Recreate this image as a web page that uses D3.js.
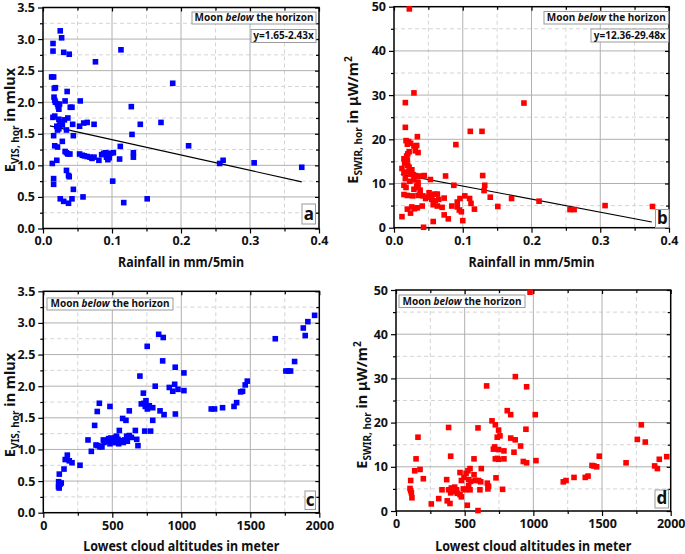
<!DOCTYPE html>
<html><head><meta charset="utf-8">
<script src="https://cdn.jsdelivr.net/npm/d3@7"></script>
<style>
body{margin:0;background:#fff}
svg{display:block}
text{font-family:"Noto Sans","Open Sans",sans-serif;font-weight:bold;fill:#111}
</style>
</head><body>
<svg id="chart" width="685" height="554"></svg>
<script>
// ---------- DATA ----------
// Panel a: rainfall (mm/5min) vs E_VIS,hor (mlux)
const pointsA = [
[0.025,3.13],[0.027,3.02],[0.0145,2.93],[0.0145,2.81],[0.030,2.79],[0.038,2.76],[0.076,2.64],[0.113,2.83],[0.188,2.30],
[0.0125,2.40],[0.0154,2.40],[0.0164,2.22],[0.018,2.23],[0.035,2.17],[0.016,2.08],[0.017,2.03],[0.032,2.02],[0.054,2.02],
[0.018,2.00],[0.021,1.97],[0.022,1.93],[0.023,1.89],[0.024,1.97],[0.0395,1.92],[0.042,1.92],[0.128,1.93],
[0.0144,1.76],[0.017,1.78],[0.023,1.73],[0.026,1.69],[0.031,1.72],[0.036,1.75],[0.043,1.65],[0.053,1.62],[0.059,1.67],[0.064,1.68],[0.074,1.65],[0.141,1.65],[0.171,1.68],
[0.024,1.64],[0.028,1.64],[0.020,1.62],[0.021,1.56],[0.034,1.56],[0.023,1.58],
[0.0154,1.47],[0.044,1.47],[0.129,1.49],[0.028,1.38],[0.017,1.31],[0.021,1.29],[0.112,1.30],[0.211,1.31],
[0.032,1.22],[0.036,1.18],[0.039,1.18],[0.034,1.20],
[0.053,1.18],[0.057,1.16],[0.060,1.15],[0.064,1.14],[0.068,1.13],[0.071,1.11],[0.074,1.13],[0.081,1.08],[0.085,1.17],[0.088,1.19],[0.091,1.20],[0.092,1.13],[0.094,1.09],[0.096,1.12],[0.098,1.19],[0.102,1.20],[0.111,1.10],[0.131,1.20],[0.131,1.13],
[0.0135,1.03],[0.020,1.08],[0.256,1.03],[0.261,1.08],[0.306,1.04],[0.375,0.97],
[0.034,0.92],[0.037,0.84],[0.038,0.82],[0.0154,0.79],[0.0154,0.70],[0.101,0.75],[0.044,0.62],
[0.025,0.47],[0.030,0.43],[0.037,0.40],[0.042,0.47],[0.058,0.50],[0.117,0.41],[0.151,0.47]
];
// Panel b: rainfall (mm/5min) vs E_SWIR,hor (µW/m²)
const pointsB = [
[0.0223,49.5],[0.029,30.5],[0.0165,28.3],[0.189,28.2],[0.0165,22.7],[0.111,21.8],[0.128,21.8],[0.034,20.6],[0.090,18.8],
[0.0175,19.7],[0.0213,19.5],[0.0194,18.9],[0.0242,19.1],[0.029,18.5],[0.033,18.6],
[0.031,17.4],[0.035,17.0],[0.022,17.2],[0.020,16.7],[0.0184,16.2],[0.0145,15.6],[0.0194,15.3],[0.0155,14.6],[0.020,14.1],[0.022,13.7],[0.026,13.1],[0.0116,13.4],[0.0145,12.4],[0.0194,12.6],[0.024,12.1],[0.028,12.0],[0.031,11.8],[0.034,11.5],[0.039,11.7],[0.044,11.8],[0.0165,11.1],[0.023,10.5],[0.029,10.8],[0.035,10.2],[0.0145,9.6],[0.0175,9.1],[0.033,9.4],[0.035,9.1],[0.029,8.7],[0.038,8.5],[0.0145,7.5],[0.0194,7.3],[0.027,7.2],[0.035,7.3],[0.038,7.5],[0.042,7.2],
[0.053,10.9],[0.075,11.7],[0.087,9.6],[0.129,11.8],[0.132,9.6],[0.131,8.4],[0.140,6.9],[0.151,4.8],
[0.051,7.9],[0.054,7.3],[0.059,7.6],[0.063,7.6],[0.049,6.9],[0.046,6.6],[0.055,6.4],[0.060,6.1],[0.065,6.4],[0.073,6.7],[0.057,5.2],[0.063,4.9],[0.070,4.6],[0.084,4.9],[0.092,5.8],[0.096,6.6],[0.092,4.7],[0.095,4.0],[0.098,3.6],[0.103,7.2],[0.110,6.6],[0.112,5.5],[0.117,4.2],
[0.041,4.9],[0.034,4.5],[0.030,4.3],[0.026,4.7],[0.0194,4.2],[0.024,3.3],[0.0116,2.5],[0.073,2.9],[0.079,2.0],[0.100,1.6],[0.057,1.4],[0.043,0.1],
[0.171,6.6],[0.211,6.0],[0.256,4.1],[0.262,4.1],[0.307,5.0],[0.376,4.8]
];
// Panel c: lowest cloud altitude (m) vs E_VIS,hor (mlux)
const pointsC = [
[110,0.41],[115,0.46],[111,0.49],[121,0.45],[130,0.47],[115,0.39],[116,0.61],[150,0.69],[159,0.84],[174,0.91],[188,0.82],[208,0.79],[266,0.75],[324,1.15],[348,0.97],[372,1.38],[391,1.60],[406,1.73],
[382,1.07],[396,1.06],[411,1.04],[425,1.04],[435,1.15],[440,1.11],[454,1.13],[473,1.17],[483,1.09],[488,1.18],[499,1.15],[502,1.11],[512,1.16],[522,1.19],[527,1.11],[531,1.21],[541,1.16],[546,1.09],[551,1.30],[556,1.14],[570,1.13],[580,1.11],[590,1.15],[604,1.21],[609,1.13],[623,1.22],[638,1.19],[667,1.30],[677,1.16],[686,1.06],
[483,1.68],[575,1.49],[599,1.46],[623,1.61],[700,2.16],[725,1.89],[710,1.72],[730,1.73],[744,1.77],[739,1.68],[754,1.64],[768,1.69],[793,1.66],[735,1.29],[778,1.29],[753,2.63],[793,1.46],[811,2.00],[846,1.61],[836,2.82],[869,2.77],[865,2.40],[875,1.55],[913,1.98],[938,1.92],[952,2.03],[956,2.30],[957,1.56],[976,1.95],[1019,1.93],[1019,2.21],
[1217,1.64],[1241,1.64],[1299,1.66],[1382,1.68],[1401,1.74],[1430,1.91],[1444,1.92],[1463,2.02],[1478,2.08],[1681,2.75],[1758,2.24],[1777,2.24],[1792,2.24],[1821,2.39],[1884,2.92],[1898,2.80],[1917,3.02],[1966,3.12]
];
// Panel d: lowest cloud altitude (m) vs E_SWIR,hor (µW/m²)
const pointsD = [
[976,49.5],[869,30.4],[660,28.3],[951,28.1],[810,22.7],[835,21.8],[1014,21.8],[699,20.4],[723,19.5],[383,18.9],[597,18.8],[747,18.3],[946,18.5],[757,17.0],[737,16.7],[160,16.7],[835,16.5],[868,16.1],[907,14.7],[718,14.5],[709,14.0],[747,13.9],[786,13.6],[859,13.3],[723,11.8],[737,11.9],[747,11.7],[786,11.8],[927,11.2],[951,10.9],[1019,11.4],[398,12.4],[568,11.8],[146,11.8],
[175,9.4],[136,9.1],[199,7.3],[107,6.9],[102,5.1],[107,4.6],[112,4.1],[116,3.0],
[621,9.6],[728,7.5],[539,9.6],[524,9.1],[510,8.5],[466,8.7],[568,8.2],[495,7.6],[476,6.9],[529,7.1],[543,6.7],[578,6.9],[602,6.9],[617,6.6],[369,7.1],[665,6.3],
[427,5.4],[403,5.2],[383,4.8],[398,4.1],[417,4.4],[441,4.8],[446,4.0],[466,3.7],[476,3.2],[490,5.0],[505,4.8],[529,5.7],[539,4.8],[611,4.8],[674,5.6],[669,5.0],[776,4.9],[335,4.8],[311,2.8],[373,2.3],[393,1.7],[257,1.6],[519,1.3],[597,0.1],
[1218,6.6],[1238,6.9],[1296,7.6],[1378,7.6],[1398,7.9],[1427,10.3],[1441,10.2],[1461,10.0],[1480,12.4],[1675,10.9],[1757,16.2],[1786,19.5],[1815,15.6],[1883,10.2],[1903,9.6],[1917,11.7],[1971,12.3]
];
// Linear fits: [intercept, slope] and x-range of fitted line
const fitA = [1.65, -2.43];
const fitB = [12.36, -29.48];
const fitRange = [0.01, 0.375];
// Axis ticks
const ticksRain = [0, 0.1, 0.2, 0.3, 0.4];
const ticksAlt = [0, 500, 1000, 1500, 2000];
const ticksVis = [0, 0.5, 1.0, 1.5, 2.0, 2.5, 3.0, 3.5];
const ticksSwir = [0, 10, 20, 30, 40, 50];
const legendText = ["Moon ", "below", " the horizon"];
const eqTexts = ["y=1.65-2.43x", "y=12.36-29.48x"];
const panelLetters = ["a", "b", "c", "d"];

// ---------- DRAW ----------
const svg = d3.select("#chart");

function minorOf(t) {
  const out = [];
  for (let i = 0; i < t.length - 1; i++) out.push((t[i] + t[i + 1]) / 2);
  return out;
}

function drawPanel(p) {
  const g = svg.append("g");
  const x = d3.scaleLinear().domain([p.xTicks[0], p.xTicks[p.xTicks.length - 1]]).range([p.left, p.right]);
  const y = d3.scaleLinear().domain([p.yTicks[0], p.yTicks[p.yTicks.length - 1]]).range([p.bottom, p.top]);
  const xMin = minorOf(p.xTicks), yMin = minorOf(p.yTicks);

  // grid
  const grid = g.append("g");
  grid.selectAll(".gxm").data(xMin).join("line")
    .attr("x1", d => x(d)).attr("x2", d => x(d)).attr("y1", p.top).attr("y2", p.bottom)
    .attr("stroke", "#d4d4d4").attr("stroke-width", 1).attr("stroke-dasharray", "4,3");
  grid.selectAll(".gym").data(yMin).join("line")
    .attr("y1", d => y(d)).attr("y2", d => y(d)).attr("x1", p.left).attr("x2", p.right)
    .attr("stroke", "#d4d4d4").attr("stroke-width", 1).attr("stroke-dasharray", "4,3");
  grid.selectAll(".gx").data(p.xTicks.slice(1, -1)).join("line")
    .attr("x1", d => x(d)).attr("x2", d => x(d)).attr("y1", p.top).attr("y2", p.bottom)
    .attr("stroke", "#b0b0b0").attr("stroke-width", 1);
  grid.selectAll(".gy").data(p.yTicks.slice(1, -1)).join("line")
    .attr("y1", d => y(d)).attr("y2", d => y(d)).attr("x1", p.left).attr("x2", p.right)
    .attr("stroke", "#b0b0b0").attr("stroke-width", 1);

  // axes with ticks
  const fmtX = p.xFmt, fmtY = p.yFmt;
  const ax = (gen, tr) => g.append("g").attr("transform", tr).call(gen)
      .call(s => s.select(".domain").remove());
  ax(d3.axisBottom(x).tickValues(p.xTicks).tickSize(5).tickPadding(3).tickFormat(fmtX), `translate(0,${p.bottom})`);
  ax(d3.axisBottom(x).tickValues(xMin).tickSize(3).tickFormat(""), `translate(0,${p.bottom})`);
  ax(d3.axisLeft(y).tickValues(p.yTicks).tickSize(5).tickPadding(3).tickFormat(fmtY), `translate(${p.left},0)`);
  ax(d3.axisLeft(y).tickValues(yMin).tickSize(3).tickFormat(""), `translate(${p.left},0)`);
  ax(d3.axisTop(x).tickValues(p.xTicks).tickSize(-4).tickFormat(""), `translate(0,${p.top})`);
  ax(d3.axisTop(x).tickValues(xMin).tickSize(-3).tickFormat(""), `translate(0,${p.top})`);
  ax(d3.axisRight(y).tickValues(p.yTicks).tickSize(-4).tickFormat(""), `translate(${p.right},0)`);
  ax(d3.axisRight(y).tickValues(yMin).tickSize(-3).tickFormat(""), `translate(${p.right},0)`);
  g.selectAll(".tick line").attr("stroke", "#000").attr("stroke-width", 1.2);
  g.selectAll(".tick text").attr("font-size", 12.5).attr("font-family", '"Noto Sans",sans-serif')
    .attr("font-weight", "bold").attr("fill", "#111");

  // frame
  g.append("rect").attr("x", p.left).attr("y", p.top)
    .attr("width", p.right - p.left).attr("height", p.bottom - p.top)
    .attr("fill", "none").attr("stroke", "#000").attr("stroke-width", 1.5);

  // fit line
  if (p.fit) {
    g.append("path").datum(fitRange)
      .attr("d", d3.line().x(d => x(d)).y(d => y(p.fit[0] + p.fit[1] * d)))
      .attr("stroke", "#000").attr("stroke-width", 1.1).attr("fill", "none");
  }

  // markers
  const s = 5.6;
  g.append("g").selectAll("rect").data(p.data).join("rect")
    .attr("x", d => x(d[0]) - s / 2).attr("y", d => y(d[1]) - s / 2)
    .attr("width", s).attr("height", s).attr("fill", p.color);

  // legend box
  const lb = p.legend;
  g.append("rect").attr("x", lb[0]).attr("y", lb[1]).attr("width", lb[2]).attr("height", lb[3])
    .attr("fill", "#fff").attr("stroke", "#9a9a9a").attr("stroke-width", 1);
  const lt = g.append("text").attr("x", lb[0] + lb[2] / 2).attr("y", lb[1] + lb[3] - 3)
    .attr("text-anchor", "middle").attr("font-size", 10).attr("font-weight", "600");
  lt.append("tspan").text(legendText[0]);
  lt.append("tspan").attr("font-style", "italic").text(legendText[1]);
  lt.append("tspan").text(legendText[2]);

  if (p.eq) {
    const eb = p.eqBox;
    g.append("rect").attr("x", eb[0]).attr("y", eb[1]).attr("width", eb[2]).attr("height", eb[3])
      .attr("fill", "#fff").attr("stroke", "#9a9a9a").attr("stroke-width", 1);
    g.append("text").attr("x", eb[0] + eb[2] / 2).attr("y", eb[1] + eb[3] - 3.5)
      .attr("text-anchor", "middle").attr("font-size", 10).attr("font-weight", "600").text(p.eq);
  }

  // letter box
  const kb = p.letterBox;
  g.append("rect").attr("x", kb[0]).attr("y", kb[1]).attr("width", kb[2]).attr("height", kb[3])
    .attr("fill", "#fff").attr("stroke", "#9a9a9a").attr("stroke-width", 1);
  g.append("text").attr("x", kb[0] + kb[2] / 2).attr("y", kb[1] + kb[3] - 4)
    .attr("text-anchor", "middle").attr("font-size", 17).attr("font-weight", "600").text(p.letter);

  // x title
  g.append("text").attr("x", (p.left + p.right) / 2).attr("y", p.xTitleY)
    .attr("text-anchor", "middle").attr("font-size", 14)
    .attr("textLength", p.xTitleW).attr("lengthAdjust", "spacingAndGlyphs").text(p.xTitle);

  // y title
  const yt = g.append("text")
    .attr("transform", `translate(${p.yTitleX},${p.yTitleCY}) rotate(-90)`)
    .attr("text-anchor", "middle").attr("font-size", 14.5);
  yt.append("tspan").text("E");
  yt.append("tspan").attr("font-size", 10).attr("dy", 4).text(p.ySub);
  yt.append("tspan").attr("dy", -4).text(p.yUnit);
  if (p.ySup) yt.append("tspan").attr("font-size", 10).attr("dy", -6).text(p.ySup);
}

const f1 = d3.format(".1f"), f0 = d3.format("d");

drawPanel({left: 43, right: 319, top: 7.5, bottom: 228.5, xTicks: ticksRain, yTicks: ticksVis,
  xFmt: f1, yFmt: f1, data: pointsA, color: "#0000ff", fit: fitA, eq: eqTexts[0],
  legend: [192, 12, 124, 12], eqBox: [251, 29.5, 65, 13], letterBox: [302, 204, 13.5, 20], letter: panelLetters[0],
  xTitle: "Rainfall in mm/5min", xTitleW: 126, xTitleY: 267, ySub: "VIS, hor", yUnit: " in mlux", yTitleX: 15, yTitleCY: 120});

drawPanel({left: 394, right: 669, top: 6.7, bottom: 227.7, xTicks: ticksRain, yTicks: ticksSwir,
  xFmt: f1, yFmt: f0, data: pointsB, color: "#ff0000", fit: fitB, eq: eqTexts[1],
  legend: [544, 11.5, 124.5, 12.5], eqBox: [591, 29, 77.5, 13], letterBox: [655.5, 209.5, 13.5, 18], letter: panelLetters[1],
  xTitle: "Rainfall in mm/5min", xTitleW: 126, xTitleY: 267, ySub: "SWIR, hor", yUnit: " in \u03BCW/m", ySup: "2", yTitleX: 358, yTitleCY: 120});

drawPanel({left: 43.3, right: 319.3, top: 291.3, bottom: 512.7, xTicks: ticksAlt, yTicks: ticksVis,
  xFmt: f0, yFmt: f1, data: pointsC, color: "#0000ff",
  legend: [47, 298, 126, 12], letterBox: [305, 491, 10.5, 18.5], letter: panelLetters[2],
  xTitle: "Lowest cloud altitudes in meter", xTitleW: 196, xTitleY: 551, ySub: "VIS, hor", yUnit: " in mlux", yTitleX: 15, yTitleCY: 405});

drawPanel({left: 396, right: 670.7, top: 290, bottom: 511, xTicks: ticksAlt, yTicks: ticksSwir,
  xFmt: f0, yFmt: f0, data: pointsD, color: "#ff0000",
  legend: [399, 295, 126, 12.5], letterBox: [655, 490, 13.5, 18], letter: panelLetters[3],
  xTitle: "Lowest cloud altitudes in meter", xTitleW: 196, xTitleY: 551, ySub: "SWIR, hor", yUnit: " in \u03BCW/m", ySup: "2", yTitleX: 367, yTitleCY: 405});
</script>
</body></html>
